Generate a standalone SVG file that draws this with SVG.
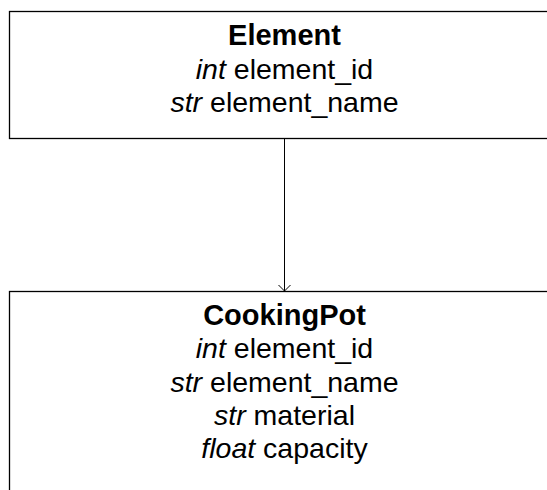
<svg xmlns="http://www.w3.org/2000/svg" width="547" height="490" viewBox="0 0 547 490">
  <defs>
    <style>
      .box { fill: #ffffff; stroke: #000000; stroke-width: 1.3; }
      .edge { fill: none; stroke: #000000; stroke-width: 1; }
      text { font-family: "Liberation Sans", Arial, sans-serif; text-anchor: middle; fill: #000000; }
      .title { font-size: 29px; font-weight: bold; }
      .field { font-size: 28.5px; }
      .type { font-style: italic; }
    </style>
    <!-- open chevron arrowhead, pointing along +x -->
    <marker id="open-arrow" viewBox="0 0 8 14" refX="7" refY="7" markerWidth="8" markerHeight="14" markerUnits="userSpaceOnUse" orient="auto">
      <polyline points="1,1 7,7 1,13" fill="none" stroke="#000000" stroke-width="1"/>
    </marker>
  </defs>
  <rect width="547" height="490" fill="#ffffff"/>

  <g id="connectors">
    <line class="edge" x1="284.5" y1="138.5" x2="284.5" y2="291" marker-end="url(#open-arrow)"/>
  </g>

  <g id="Element">
    <rect class="box" x="9.5" y="11.5" width="560" height="127"/>
    <text class="title" x="284.5" y="45">Element</text>
    <text class="field" x="284.5" y="78.5"><tspan class="type">int</tspan> element_id</text>
    <text class="field" x="284.5" y="111.8"><tspan class="type">str</tspan> element_name</text>
  </g>

  <g id="CookingPot">
    <rect class="box" x="9.5" y="291.5" width="560" height="220"/>
    <text class="title" x="284.5" y="325">CookingPot</text>
    <text class="field" x="284.5" y="358.3"><tspan class="type">int</tspan> element_id</text>
    <text class="field" x="284.5" y="391.6"><tspan class="type">str</tspan> element_name</text>
    <text class="field" x="284.5" y="425"><tspan class="type">str</tspan> material</text>
    <text class="field" x="284.5" y="458.3"><tspan class="type">float</tspan> capacity</text>
  </g>
</svg>
